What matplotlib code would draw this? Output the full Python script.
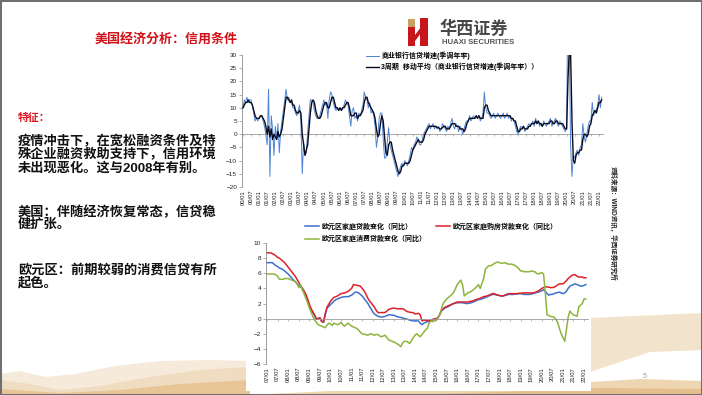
import numpy as np
import pandas as pd
import matplotlib
matplotlib.use("Agg")
import matplotlib.pyplot as plt
import matplotlib.dates as mdates
from matplotlib.patches import Rectangle, Polygon

plt.rcParams['font.family'] = ['Liberation Sans', 'Noto Sans CJK SC', 'DejaVu Sans']

W, H = 702, 395

# ---------------- data ----------------
us_credit_growth = [
    10, 13, 12, 14, 12, 13, 13, 11, 8, 5, 6, 5,
    6, 7, 7, 5, 3, 0, -4, 17, -16, 7, 2, -8,
    3, -2, 4, -7, 1, 5, 9, 13, 17, 13, 14, 12,
    12, 10, 10, 8, 7, 9, 11, 5, -15, -3, -8, -7,
    1, 7, 13, 13, 12, 9, 7, 6, 6, 7, 9, 11,
    13, 11, 12, 6, 13, 16, 15, 12, 10, 9, 10, 9,
    10, 9, 10, 11, 13, 12, 11, 7, 3, 9, 10, 6,
    7, 5, 8, 7, 9, 11, 16, 14, 13, 10, 12, 8,
    9, 7, 3, -5, -1, 6, 8, 8, -2, -9, -9, -3,
    2.5, -4, -6, -8, -10, -12, -14, -16, -14, -12, -11, -12,
    -10, -11, -12, -10, -8, -5, -6, -4, -3, -1, -2, -4,
    -4, -2, 0, 1, 2, 3, 4, 2, 3, 4, 2, 3,
    2, 3, 1, 2, 4, 3, 2, 1, 3, 2, 4, 6,
    3, 2, 4, 3, 1, 3, 2, 0, 2, 4, 5, 5,
    7, 5, 6, 7, 6, 7, 6, 7, 5, 6, 8, 16,
    10, 8, 8, 7, 6, 7, 8, 6, 7, 8, 7, 6,
    7, 8, 6, 7, 8, 6, 7, 5, 6, 5, 3, 1,
    0, 2, 3, 2, 3, 1, 2, 3, 4, 3, 4, 5,
    3, 6, 4, 5, 3, 4, 3, 5, 4, 3, 4, 5,
    6, 3, 4, 5, 6, 4, 3, 5, 4, 3, 2, 1,
    2, 60, 35, -5, -16, -8, -9, -7, -6, -8, -5, -4,
    4, -1, -3, 0, 3, 5, 5, 12, 7, 9, 9, 11,
    15, 10, 14,
]
us_credit_ma3 = [
    10, 11, 12, 12, 13, 12, 12, 11, 9, 7, 6, 6,
    6, 7, 7, 6, 5, 3, 0, 3, -1, 2, -2, 0,
    -1, -2, 1, -1, 0, 2, 6, 10, 14, 14, 13, 12,
    13, 11, 11, 9, 8, 8, 9, 8, 0, -4, -8, -6,
    -4, 2, 8, 12, 13, 12, 9, 7, 6, 6, 7, 9,
    11, 12, 12, 10, 10, 12, 14, 14, 12, 10, 10, 9,
    10, 9, 10, 10, 11, 12, 12, 10, 7, 7, 7, 8,
    8, 6, 7, 7, 8, 9, 12, 14, 14, 12, 11, 10,
    9, 8, 6, 2, -1, 0, 4, 7, 5, -1, -7, -8,
    -4, -3, -3, -6, -8, -10, -12, -14, -15, -14, -12, -12,
    -11, -11, -11, -11, -10, -8, -6, -5, -4, -3, -2, -3,
    -3, -3, -2, 0, 1, 2, 3, 3, 3, 3, 3, 3,
    2.5, 2.5, 2, 2, 2.5, 3, 3, 2, 2, 2, 3, 4,
    4, 4, 3, 3, 3, 2, 2, 2, 1, 2, 4, 5,
    6, 6, 6, 6, 6, 7, 6, 7, 6, 6, 6, 10,
    11, 11, 9, 8, 7, 7, 7, 7, 7, 7, 7, 7,
    7, 7, 7, 7, 7, 7, 7, 6, 6, 5, 5, 3,
    1, 1, 2, 2, 3, 2, 2, 2, 3, 3, 4, 4,
    4, 5, 4, 5, 4, 4, 3, 4, 4, 4, 4, 4,
    5, 5, 4, 4, 5, 5, 4, 4, 4, 4, 3, 2,
    2, 21, 32, 30, 5, -10, -11, -8, -7, -7, -6, -6,
    -2, 0, 0, -1, 0, 3, 4, 7, 8, 9, 8, 10,
    12, 12, 13,
]
us_start = "2000-01-01"
us_tick_first, us_tick_last = "2000-01-01", "2022-01-01"
us_yticks = [-20, -15, -10, -5, 0, 5, 10, 15, 20, 25, 30]
us_labels = ["商业银行信贷增速(季调年率)", "3周期  移动平均（商业银行信贷增速(季调年率））"]

ez_household_loans = [
    7.4, 7.4, 7.4, 7.4, 7.2, 7.0, 6.9, 6.7, 6.6, 6.5, 6.3, 6.1,
    5.9, 5.6, 5.4, 5.1, 4.9, 4.6, 4.4, 4.2, 4.0, 3.6, 3.2, 2.4,
    1.6, 1.2, 0.8, 0.4, -0.1, 0.0, 0.1, -0.35, -0.5, 0.5, 1.4, 1.6,
    1.85, 2.1, 2.3, 2.5, 2.6, 2.7, 2.8, 2.85, 2.9, 2.9, 2.9, 3.0,
    3.1, 3.3, 3.5, 3.5, 3.4, 3.2, 3.0, 2.7, 2.4, 2.1, 1.7, 1.3,
    0.9, 0.6, 0.45, 0.3, 0.25, 0.2, 0.25, 0.3, 0.4, 0.5, 0.5, 0.45,
    0.45, 0.35, 0.25, 0.2, 0.15, 0.1, 0.0, -0.05, -0.1, -0.2, -0.25, -0.3,
    -0.3, -0.3, -0.3, -0.6, -0.8, -0.6, -0.5, -0.4, -0.35, -0.25, -0.15, -0.1,
    0.0, 0.1, 0.5, 1.0, 1.2, 1.4, 1.5, 1.6, 1.75, 1.9, 2.0, 2.05,
    2.1, 2.1, 2.1, 2.1, 2.05, 2.0, 2.0, 2.05, 2.1, 2.2, 2.3, 2.4,
    2.5, 2.55, 2.6, 2.7, 2.8, 2.9, 3.0, 3.1, 3.2, 3.2, 3.15, 3.1,
    3.05, 3.0, 3.0, 3.05, 3.1, 3.2, 3.2, 3.2, 3.2, 3.25, 3.25, 3.3,
    3.3, 3.25, 3.2, 3.2, 3.2, 3.2, 3.25, 3.3, 3.4, 3.45, 3.5, 3.6,
    3.7, 3.8, 3.6, 3.3, 3.1, 3.2, 3.2, 3.3, 3.4, 3.45, 3.5, 3.4,
    3.3, 3.4, 3.6, 4.0, 4.3, 4.4, 4.5, 4.6, 4.5, 4.4, 4.3, 4.3,
    4.4, 4.5,
]
ez_house_purchase_loans = [
    8.7, 8.7, 8.7, 8.6, 8.5, 8.3, 8.1, 8.0, 7.8, 7.6, 7.4, 7.1,
    6.8, 6.5, 6.2, 5.9, 5.6, 5.2, 4.8, 4.4, 4.0, 3.6, 3.2, 2.6,
    1.9, 1.3, 0.9, 0.5, 0.0, 0.0, 0.1, -0.3, -0.5, 0.6, 1.5, 1.9,
    2.3, 2.6, 2.8, 2.9, 3.0, 3.15, 3.3, 3.35, 3.4, 3.5, 3.6, 3.8,
    4.0, 4.5, 4.45, 4.4, 4.35, 4.3, 4.0, 3.7, 3.3, 2.8, 2.4, 2.1,
    1.8, 1.5, 1.1, 0.8, 0.8, 0.8, 0.8, 0.8, 1.0, 1.2, 1.3, 1.35,
    1.4, 1.35, 1.3, 1.3, 1.3, 1.3, 1.2, 1.0, 0.9, 0.85, 0.8, 0.8,
    0.6, 0.65, 0.7, 0.5, -0.3, -0.2, -0.2, -0.25, -0.3, -0.2, -0.1, -0.05,
    0.0, 0.1, 0.5, 1.1, 1.3, 1.5, 1.6, 1.7, 1.8, 1.9, 2.0, 2.1,
    2.2, 2.2, 2.2, 2.2, 2.2, 2.2, 2.2, 2.25, 2.3, 2.35, 2.45, 2.55,
    2.6, 2.7, 2.8, 2.9, 2.95, 3.0, 3.1, 3.2, 3.3, 3.3, 3.2, 3.1,
    3.05, 3.0, 3.0, 3.1, 3.2, 3.3, 3.3, 3.3, 3.3, 3.3, 3.3, 3.35,
    3.35, 3.4, 3.4, 3.4, 3.4, 3.4, 3.4, 3.4, 3.45, 3.55, 3.65, 3.8,
    4.0, 4.1, 4.2, 4.2, 4.15, 4.1, 4.1, 4.15, 4.3, 4.45, 4.6, 4.6,
    4.6, 4.8, 5.0, 5.3, 5.5, 5.7, 5.8, 5.8, 5.6, 5.5, 5.5, 5.5,
    5.4, 5.4,
]
ez_consumer_loans = [
    5.9, 5.9, 5.9, 5.9, 5.9, 5.8, 5.6, 5.2, 5.2, 5.2, 5.3, 5.3,
    5.3, 5.2, 5.1, 5.0, 4.9, 4.7, 4.1, 4.5, 3.8, 3.3, 2.7, 2.1,
    1.4, 0.8, 0.3, -0.2, -0.5, -0.8, -0.9, -1.0, -1.1, -1.2, -0.9, -0.6,
    -0.7, -0.9, -0.6, -0.7, -0.8, -0.7, -0.5, -0.8, -1.0, -0.8, -0.6, -0.8,
    -1.0, -1.1, -1.2, -1.3, -1.5, -1.8, -2.0, -2.05, -2.1, -2.2, -2.1, -2.0,
    -2.1, -2.2, -2.1, -2.1, -2.3, -2.4, -2.3, -2.2, -2.5, -2.8, -2.9, -3.0,
    -3.1, -3.2, -3.35, -3.5, -3.7, -3.2, -3.0, -3.0, -3.1, -3.3, -2.9, -2.5,
    -2.2, -2.0, -2.2, -2.4, -2.1, -1.8, -1.5, -1.3, -0.6, -0.3, -0.4, -0.3,
    -0.2, 0.1, 0.5, 1.2, 2.0, 2.3, 2.6, 2.8, 3.0, 3.2, 3.5, 4.0,
    4.5, 4.8, 5.1, 4.5, 3.0, 3.2, 3.4, 3.5, 3.6, 3.8, 4.0, 4.2,
    4.5, 4.0, 4.6, 5.3, 6.5, 6.8, 7.0, 7.0, 7.1, 7.3, 7.4, 7.5,
    7.4, 7.3, 7.35, 7.4, 7.3, 7.2, 7.2, 7.2, 7.1, 7.0, 6.8, 6.6,
    6.3, 6.3, 6.2, 6.2, 6.2, 6.2, 6.3, 6.25, 6.2, 6.0, 5.9, 6.0,
    6.1, 5.9, 3.5, 0.5, 0.4, 0.3, 0.25, 0.2, -0.1, -0.5, -1.3, -2.0,
    -2.5, -3.0, -1.5, 0.2, 1.0, 0.7, 0.5, 0.4, 0.3, 1.5, 1.8, 2.0,
    2.6, 2.6,
]
ez_start = "2007-01-01"
ez_tick_first, ez_tick_last = "2007-01-01", "2022-01-01"
ez_yticks = [-6, -4, -2, 0, 2, 4, 6, 8, 10]
ez_labels = ["欧元区家庭贷款变化（同比）", "欧元区家庭购房贷款变化（同比）", "欧元区家庭消费贷款变化（同比）"]

title_text = "美国经济分析：信用条件"
feature_head = "特征："
body_lines = [
    ("疫情冲击下，在宽松融资条件及特", 142),
    ("殊企业融资救助支持下，信用环境", 155),
    ("未出现恶化。这与2008年有别。", 168),
    ("美国：伴随经济恢复常态，信贷稳", 212),
    ("健扩张。", 225),
    ("欧元区：前期较弱的消费信贷有所", 270),
    ("起色。", 283),
]
source_text = "资料来源：WIND资讯，华西证券研究所"

# ---------------- figure ----------------
fig = plt.figure(figsize=(7.02, 3.95), dpi=100)
fig.patch.set_facecolor("white")


def fx(x):
    return x / W


def fy(y):
    return 1 - y / H


bg = fig.add_axes([0, 0, 1, 1], zorder=0)
bg.set_xlim(0, W)
bg.set_ylim(H, 0)
bg.axis("off")

bg.add_patch(Polygon([(0, 374), (20, 371), (45, 377), (75, 374), (115, 366), (160, 361),
                      (210, 360), (250, 361), (250, 395), (0, 395)], closed=True,
                     fc="#F6EADA", ec="none"))
bg.add_patch(Polygon([(0, 380), (30, 384), (60, 390), (100, 386), (150, 377), (200, 370),
                      (250, 367), (250, 395), (0, 395)], closed=True, fc="#F0DCC0", ec="none"))
bg.add_patch(Polygon([(0, 389), (60, 393), (120, 390), (180, 384), (250, 380), (250, 395),
                      (0, 395)], closed=True, fc="#E7C596", ec="none"))
bg.add_patch(Polygon([(590, 318), (702, 313), (702, 350), (650, 352), (590, 372)], closed=True,
                     fc="#F2E3CC", ec="none"))
bg.add_patch(Polygon([(250, 395), (350, 390), (450, 388), (560, 384), (640, 379), (702, 381),
                      (702, 395)], closed=True, fc="#EFD6B2", ec="none"))
bg.add_patch(Polygon([(400, 395), (500, 392), (600, 388), (702, 389), (702, 395)], closed=True,
                     fc="#E4BE8C", ec="none"))
bg.add_patch(Rectangle((246, 211), 345, 180, fc="white", ec="none"))

# logo
bg.add_patch(Rectangle((408, 19), 7, 8, fc="#C9A063", ec="none"))
bg.add_patch(Rectangle((408, 27), 7, 19, fc="#C8161D", ec="none"))
bg.add_patch(Polygon([(415, 35), (421, 27), (421, 33), (415, 41)], closed=True, fc="#C8161D", ec="none"))
bg.add_patch(Rectangle((420, 18), 8, 28, fc="#C8161D", ec="none"))

fig.text(fx(439), fy(28), "华西证券", fontsize=12.3, fontweight="bold", color="#454545",
         ha="left", va="center")
fig.text(fx(442), fy(42.5), "HUAXI SECURITIES", fontsize=5.6, color="#555555",
         ha="left", va="center", fontweight="bold")

fig.text(fx(95), fy(39), title_text, fontsize=9.4, fontweight="bold", color="#D0121B",
         ha="left", va="center")
fig.text(fx(18), fy(118), feature_head, fontsize=7.8, fontweight="bold", color="#E0141E",
         ha="left", va="center")
for txt, yy in body_lines:
    fig.text(fx(18), fy(yy), txt, fontsize=9.5, fontweight="bold", color="#111111",
             ha="left", va="center")
fig.text(fx(613), fy(166), source_text, fontsize=4.7, color="#222222", rotation=-90,
         ha="center", va="top", fontweight="bold")
fig.text(fx(645), fy(376), "5", fontsize=5, color="#999999", ha="center", va="center")


def style_axes(ax, yticks, tick_dates, label_size):
    ax.patch.set_alpha(0)
    for s in ("top", "right"):
        ax.spines[s].set_visible(False)
    ax.spines["left"].set_color("#8c8c8c")
    ax.spines["left"].set_linewidth(0.6)
    ax.spines["bottom"].set_position(("data", 0))
    ax.spines["bottom"].set_color("#9a9a9a")
    ax.spines["bottom"].set_linewidth(0.6)
    ax.set_yticks(yticks)
    ax.tick_params(axis="y", length=2, width=0.5, color="#8c8c8c", labelsize=4.6,
                   labelcolor="#222222", pad=1.5)
    tpos = mdates.date2num(tick_dates)
    ax.set_xticks(tpos)
    ax.tick_params(axis="x", length=1.5, width=0.5, color="#9a9a9a", labelbottom=False)
    sec = ax.secondary_xaxis("bottom")
    sec.set_xticks(tpos, labels=[d.strftime("%y/%m") for d in tick_dates])
    sec.tick_params(length=0, labelsize=label_size, rotation=90, pad=2, labelcolor="#222222")
    sec.spines["bottom"].set_visible(False)
    return sec


# ---- top chart ----
ax1 = fig.add_axes([fx(242), fy(187), (603 - 242) / W, (187 - 55) / H], zorder=2)
us_dates = pd.date_range(us_start, periods=len(us_credit_growth), freq="MS")
x1 = mdates.date2num(us_dates)
ax1.plot(x1, us_credit_growth, color="#4D84D6", lw=0.7, label=us_labels[0], zorder=3)
ax1.plot(x1, us_credit_ma3, color="#0B0B1E", lw=1.0, label=us_labels[1], zorder=4)
ax1.set_ylim(-20, 30)
ax1.set_xlim(mdates.date2num(pd.Timestamp("1999-12-11")), mdates.date2num(pd.Timestamp("2022-04-01")))
style_axes(ax1, us_yticks, pd.date_range(us_tick_first, us_tick_last, freq="6MS"), 4.2)
ax1.legend(loc="upper left", bbox_to_anchor=(fx(366), fy(52)), bbox_transform=fig.transFigure,
           frameon=False, prop={"size": 5, "weight": "bold"}, handlelength=1.8,
           handletextpad=0.4, labelspacing=0.35, borderpad=0, borderaxespad=0)

# ---- bottom chart ----
ax2 = fig.add_axes([fx(266), fy(364), (588 - 266) / W, (364 - 243) / H], zorder=2)
ez_dates = pd.date_range(ez_start, periods=len(ez_household_loans), freq="MS")
x2 = mdates.date2num(ez_dates)
l_blue, = ax2.plot(x2, ez_household_loans, color="#3E70CA", lw=1.1, label=ez_labels[0])
l_red, = ax2.plot(x2, ez_house_purchase_loans, color="#DC2229", lw=1.1, label=ez_labels[1])
l_green, = ax2.plot(x2, ez_consumer_loans, color="#8DB43C", lw=1.1, label=ez_labels[2])
ax2.set_ylim(-6, 10)
ax2.set_xlim(mdates.date2num(pd.Timestamp("2006-12-13")), mdates.date2num(pd.Timestamp("2022-03-10")))
style_axes(ax2, ez_yticks, pd.date_range(ez_tick_first, ez_tick_last, freq="6MS"), 4.2)
ax2.legend(handles=[l_blue, l_green, l_red], ncol=2, loc="upper left",
           bbox_to_anchor=(fx(305), fy(223)), bbox_transform=fig.transFigure,
           frameon=False, prop={"size": 5, "weight": "bold"}, handlelength=2.0,
           handletextpad=0.4, labelspacing=0.75, columnspacing=1.4, borderpad=0,
           borderaxespad=0)

fig.patches.append(Rectangle((0, 0), 1, 1, transform=fig.transFigure, fill=False,
                             ec="#6f6f6f", lw=2.2, zorder=10))

fig.savefig("out.png", dpi=100, facecolor="white")
